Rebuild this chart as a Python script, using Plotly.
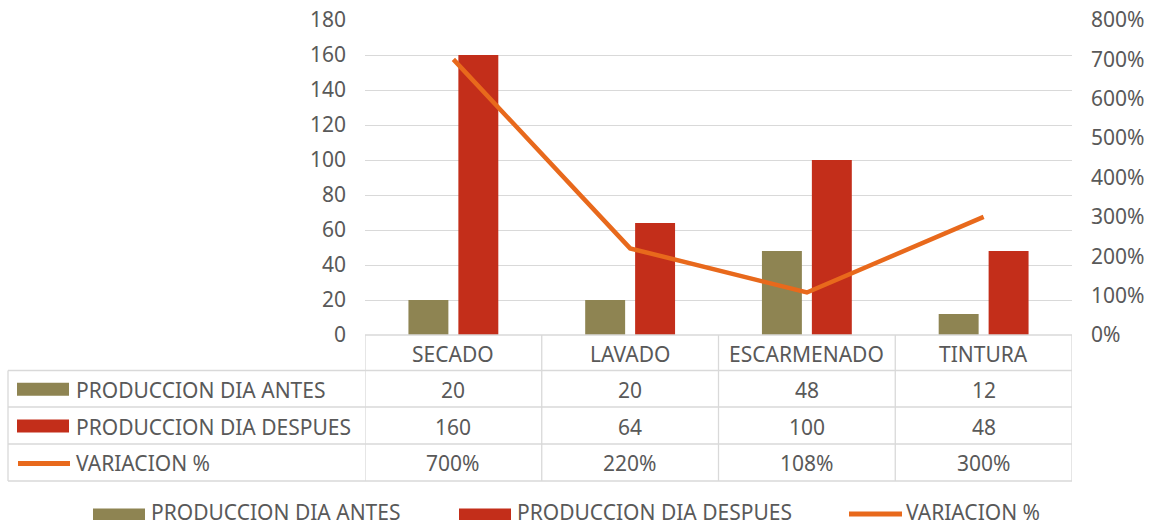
import plotly.graph_objects as go

categories = ["SECADO", "LAVADO", "ESCARMENADO", "TINTURA"]
antes = [20, 20, 48, 12]
despues = [160, 64, 100, 48]
variacion = [7.00, 2.20, 1.08, 3.00]  # fractions (700%, ...)
series_names = ["PRODUCCION DIA ANTES", "PRODUCCION DIA DESPUES", "VARIACION %"]
y_ticks = [0, 20, 40, 60, 80, 100, 120, 140, 160, 180]

C_ANTES = "#8E8452"
C_DESP = "#C32E1A"
C_VAR = "#E8691C"
TXT = "#595959"
GRID = "#D9D9D9"
FONT = "Noto Sans"
FS = 21

W, H = 1149, 527
L, R, T, B = 365, 1072, 20, 335  # plot area in px


def px(x):
    return (x - L) / (R - L)


def py(y):
    return (B - y) / (B - T)


x_idx = list(range(len(categories)))

fig = go.Figure()
fig.add_trace(go.Bar(x=x_idx, y=antes, name=series_names[0], marker_color=C_ANTES,
                     marker_line_width=0, showlegend=False))
fig.add_trace(go.Bar(x=x_idx, y=despues, name=series_names[1], marker_color=C_DESP,
                     marker_line_width=0, showlegend=False))
fig.add_trace(go.Scatter(x=x_idx, y=variacion, name=series_names[2], yaxis="y2",
                         mode="lines", line=dict(color=C_VAR, width=4.5),
                         showlegend=False))

shapes = []
annotations = []
lc = dict(color=GRID, width=1.3)

# table geometry (px)
row_lines = [B, 370.5, 407, 444, 481]
label_left = 8

# horizontal lines
shapes.append(dict(type="line", xref="paper", yref="paper", x0=px(L), x1=px(R),
                   y0=py(row_lines[0]), y1=py(row_lines[0]), line=lc))
for yy in row_lines[1:]:
    shapes.append(dict(type="line", xref="paper", yref="paper", x0=px(label_left), x1=px(R),
                       y0=py(yy), y1=py(yy), line=lc))
# vertical lines
shapes.append(dict(type="line", xref="paper", yref="paper", x0=px(label_left), x1=px(label_left),
                   y0=py(row_lines[1]), y1=py(row_lines[-1]), line=lc))
for i in range(len(categories) + 1):
    xv = i - 0.5
    shapes.append(dict(type="line", xref="x", yref="paper", x0=xv, x1=xv,
                       y0=py(row_lines[0]), y1=py(row_lines[-1]), line=lc))

# header row: categories
for i, c in enumerate(categories):
    annotations.append(dict(x=i, y=py((row_lines[0] + row_lines[1]) / 2 + 1), xref="x", yref="paper",
                            text=c, showarrow=False, font=dict(family=FONT, size=FS, color=TXT),
                            xanchor="center", yanchor="middle"))

rows = [
    (series_names[0], [str(v) for v in antes], "rect", C_ANTES),
    (series_names[1], [str(v) for v in despues], "rect", C_DESP),
    (series_names[2], [f"{v*100:.0f}%" for v in variacion], "line", C_VAR),
]
for r, (name, vals, kind, col) in enumerate(rows):
    y0p, y1p = row_lines[r + 1], row_lines[r + 2]
    yc = (y0p + y1p) / 2 + 1
    if kind == "rect":
        shapes.append(dict(type="rect", xref="paper", yref="paper", x0=px(17), x1=px(69),
                           y0=py(yc - 7), y1=py(yc + 6), fillcolor=col, line_width=0))
    else:
        shapes.append(dict(type="line", xref="paper", yref="paper", x0=px(18), x1=px(70),
                           y0=py(yc), y1=py(yc), line=dict(color=col, width=5)))
    annotations.append(dict(x=px(74), y=py(yc), xref="paper", yref="paper", text=name,
                            showarrow=False, font=dict(family=FONT, size=FS, color=TXT),
                            xanchor="left", yanchor="middle"))
    for i, v in enumerate(vals):
        annotations.append(dict(x=i, y=py(yc), xref="x", yref="paper", text=v, showarrow=False,
                                font=dict(family=FONT, size=FS, color=TXT),
                                xanchor="center", yanchor="middle"))

# bottom legend
leg_y = 514
leg_text_y = 511.5
leg_items = [
    (series_names[0], "rect", C_ANTES, 93, 145, 150),
    (series_names[1], "rect", C_DESP, 459, 511, 516),
    (series_names[2], "line", C_VAR, 849, 902, 905),
]
for name, kind, col, k0, k1, tx in leg_items:
    if kind == "rect":
        shapes.append(dict(type="rect", xref="paper", yref="paper", x0=px(k0), x1=px(k1),
                           y0=py(leg_y - 5.5), y1=py(leg_y + 6), fillcolor=col, line_width=0))
    else:
        shapes.append(dict(type="line", xref="paper", yref="paper", x0=px(k0), x1=px(k1),
                           y0=py(leg_y), y1=py(leg_y), line=dict(color=col, width=5)))
    annotations.append(dict(x=px(tx), y=py(leg_text_y), xref="paper", yref="paper", text=name,
                            showarrow=False, font=dict(family=FONT, size=FS, color=TXT),
                            xanchor="left", yanchor="middle", borderpad=0))

fig.update_layout(
    width=W, height=H,
    margin=dict(l=L, r=W - R, t=T, b=H - B, pad=0, autoexpand=False),
    paper_bgcolor="white", plot_bgcolor="white",
    barmode="group", bargap=0.435, bargroupgap=0.2,
    font=dict(family=FONT, size=FS, color=TXT),
    xaxis=dict(range=[-0.5, len(categories) - 0.5], showticklabels=False, showgrid=False,
               zeroline=False, showline=False, fixedrange=True, automargin=False),
    yaxis=dict(range=[0, 180], tickvals=y_ticks, showgrid=True, gridcolor=GRID, gridwidth=1.3,
               zeroline=False, showline=False, ticks="", ticklabelstandoff=18, automargin=False,
               tickfont=dict(family=FONT, size=FS, color=TXT)),
    yaxis2=dict(range=[0, 8], dtick=1, tickformat=".0%", overlaying="y", side="right",
                showgrid=False, zeroline=False, showline=False, ticks="", ticklabelstandoff=18,
                automargin=False, tickfont=dict(family=FONT, size=FS, color=TXT)),
    shapes=shapes, annotations=annotations, showlegend=False,
)

fig.write_html(
    "out.html",
    config={"displayModeBar": False},
    post_script="document.body.style.margin='0';document.body.style.overflow='hidden';"
                "document.documentElement.style.overflow='hidden';",
)
